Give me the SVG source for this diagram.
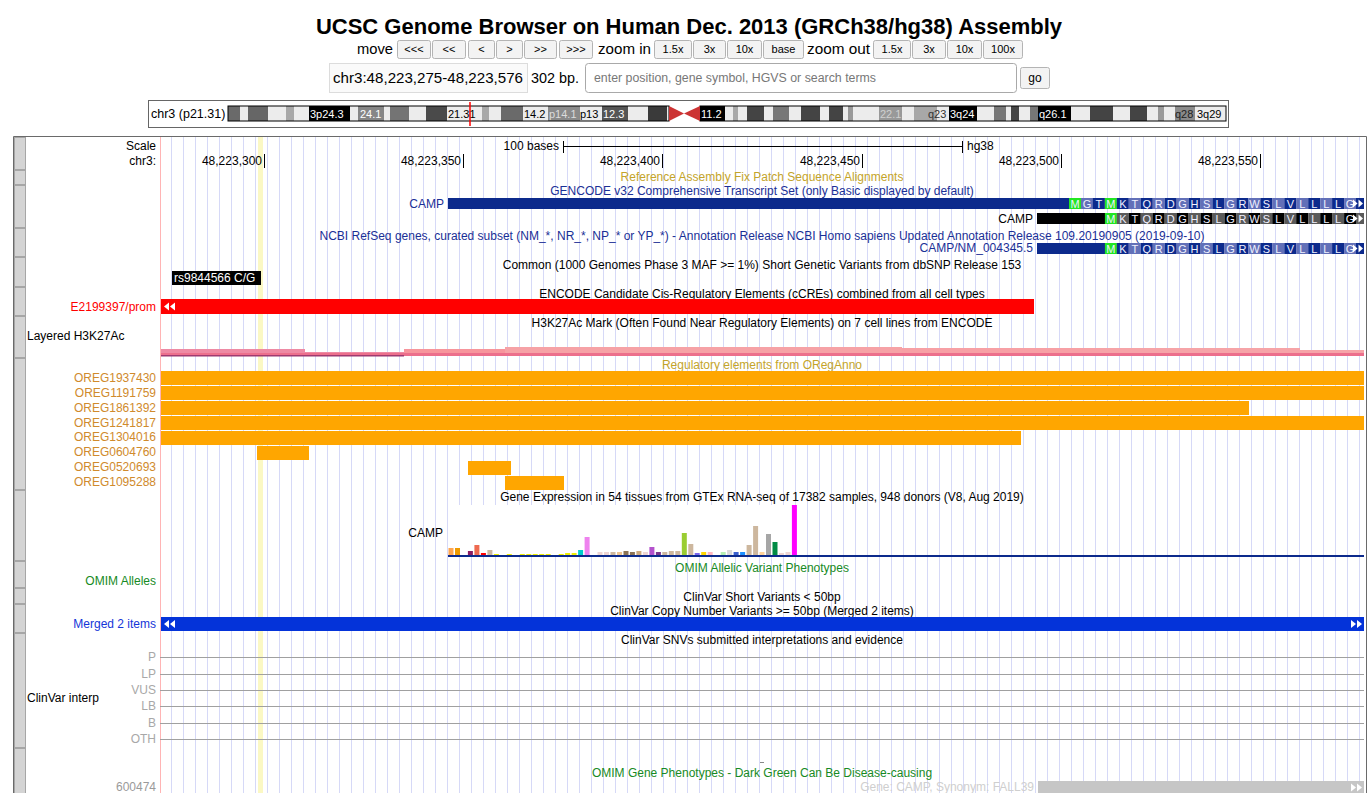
<svg xmlns="http://www.w3.org/2000/svg" width="1372" height="793" viewBox="0 0 1372 793">
<style>
  text { font-family: "Liberation Sans", Arial, sans-serif; font-size: 12px; fill: #000; }
  .hdr { font-size: 15px; }
  .btn-t { font-size: 11px; text-anchor: middle; }
  .btn { fill: #f3f3f3; stroke: #b4b4b4; }
  .side { fill: #d4d4d4; stroke: #a6a6a6; }
  .lbl { text-anchor: end; }
  .mid { text-anchor: middle; }
  .band { font-size: 11px; }
  .gold { fill: #c4a42a; }
  .navy { fill: #1a2f96; }
  .oreg { fill: #d08a2c; text-anchor: end; }
  .obar { fill: #ffa600; }
  .green { fill: #178a24; }
  .gray { fill: #a8a8a8; }
  .aa { font-size: 11px; fill: #f0f0ff; text-anchor: middle; }
  .cd { fill: #0c2a8c; }
  .cl { fill: #6270b8; }
  .ck { fill: #000; }
  .cg { fill: #5a5a5a; }
  .met { fill: #22e622; }
  .arw { fill: #fff; }
  .tick { stroke: #000; stroke-width: 1; }
  .cvline { stroke: #a0a0a0; stroke-width: 1.2; }
</style>
<defs>
  <pattern id="guides" x="161" y="0" width="12" height="8" patternUnits="userSpaceOnUse">
    <rect x="10" y="0" width="1" height="8" fill="#d6d9f7"/>
  </pattern>
</defs>

<rect width="1372" height="793" fill="#fff"/>

<!-- page header -->
<g id="header">
  <text x="689" y="34" class="mid" style="font-size:22px;font-weight:bold">UCSC Genome Browser on Human Dec. 2013 (GRCh38/hg38) Assembly</text>
  <text x="357" y="54" class="hdr" textLength="36" lengthAdjust="spacingAndGlyphs">move</text>
  <rect class="btn" x="397.5" y="40.5" width="33" height="18" rx="2"/><text class="btn-t" x="414" y="53">&lt;&lt;&lt;</text>
  <rect class="btn" x="432.5" y="40.5" width="33" height="18" rx="2"/><text class="btn-t" x="449" y="53">&lt;&lt;</text>
  <rect class="btn" x="468.5" y="40.5" width="26" height="18" rx="2"/><text class="btn-t" x="481.5" y="53">&lt;</text>
  <rect class="btn" x="496.5" y="40.5" width="26" height="18" rx="2"/><text class="btn-t" x="509.5" y="53">&gt;</text>
  <rect class="btn" x="524.5" y="40.5" width="32" height="18" rx="2"/><text class="btn-t" x="540.5" y="53">&gt;&gt;</text>
  <rect class="btn" x="559.5" y="40.5" width="33" height="18" rx="2"/><text class="btn-t" x="576" y="53">&gt;&gt;&gt;</text>
  <text x="598" y="54" class="hdr" textLength="53" lengthAdjust="spacingAndGlyphs">zoom in</text>
  <rect class="btn" x="654.5" y="40.5" width="37" height="18" rx="2"/><text class="btn-t" x="673" y="53">1.5x</text>
  <rect class="btn" x="693.5" y="40.5" width="32" height="18" rx="2"/><text class="btn-t" x="709.5" y="53">3x</text>
  <rect class="btn" x="727.5" y="40.5" width="34" height="18" rx="2"/><text class="btn-t" x="744.5" y="53">10x</text>
  <rect class="btn" x="763.5" y="40.5" width="40" height="18" rx="2"/><text class="btn-t" x="783.5" y="53">base</text>
  <text x="807" y="54" class="hdr" textLength="63" lengthAdjust="spacingAndGlyphs">zoom out</text>
  <rect class="btn" x="873.5" y="40.5" width="37" height="18" rx="2"/><text class="btn-t" x="892" y="53">1.5x</text>
  <rect class="btn" x="912.5" y="40.5" width="33" height="18" rx="2"/><text class="btn-t" x="929" y="53">3x</text>
  <rect class="btn" x="947.5" y="40.5" width="34" height="18" rx="2"/><text class="btn-t" x="964.5" y="53">10x</text>
  <rect class="btn" x="983.5" y="40.5" width="39" height="18" rx="2"/><text class="btn-t" x="1003" y="53">100x</text>

  <rect x="329.5" y="63.5" width="198" height="29" fill="#fafafa" stroke="#dcdcdc"/>
  <text x="333" y="83" class="hdr" textLength="190" lengthAdjust="spacingAndGlyphs">chr3:48,223,275-48,223,576</text>
  <text x="531" y="83" class="hdr" textLength="48" lengthAdjust="spacingAndGlyphs">302 bp.</text>
  <rect x="585.5" y="63.5" width="431" height="29" rx="3" fill="#fff" stroke="#a9a9a9"/>
  <text x="594" y="82" style="fill:#777" textLength="282" lengthAdjust="spacingAndGlyphs">enter position, gene symbol, HGVS or search terms</text>
  <rect class="btn" x="1020.5" y="67.5" width="29" height="21" rx="2"/>
  <text x="1035" y="82" class="btn-t" style="font-size:12px">go</text>
</g>

<!-- chromosome ideogram -->
<g id="ideogram">
  <rect x="148.5" y="100.5" width="1080" height="27" fill="#fff" stroke="#666"/>
  <text x="151" y="118" style="font-size:12.5px">chr3 (p21.31)</text>
  <g stroke="none">
    <rect x="228" y="106" width="12" height="15" fill="#6a6a6a"/>
    <rect x="240" y="106" width="8" height="15" fill="#ececec"/>
    <rect x="248" y="106" width="20" height="15" fill="#666"/>
    <rect x="268" y="106" width="18" height="15" fill="#ececec"/>
    <rect x="286" y="106" width="8" height="15" fill="#a8a8a8"/>
    <rect x="294" y="106" width="15" height="15" fill="#ececec"/>
    <rect x="309" y="106" width="41" height="15" fill="#000"/>
    <rect x="350" y="106" width="8" height="15" fill="#ececec"/>
    <rect x="358" y="106" width="26" height="15" fill="#868686"/>
    <rect x="384" y="106" width="6" height="15" fill="#ececec"/>
    <rect x="390" y="106" width="19" height="15" fill="#747474"/>
    <rect x="409" y="106" width="17" height="15" fill="#ececec"/>
    <rect x="426" y="106" width="21" height="15" fill="#4a4a4a"/>
    <rect x="447" y="106" width="35" height="15" fill="#ececec"/>
    <rect x="482" y="106" width="7" height="15" fill="#a8a8a8"/>
    <rect x="489" y="106" width="12" height="15" fill="#ececec"/>
    <rect x="501" y="106" width="22" height="15" fill="#6a6a6a"/>
    <rect x="523" y="106" width="25" height="15" fill="#ececec"/>
    <rect x="548" y="106" width="32" height="15" fill="#8a8a8a"/>
    <rect x="580" y="106" width="22" height="15" fill="#ececec"/>
    <rect x="602" y="106" width="26" height="15" fill="#555"/>
    <rect x="628" y="106" width="20" height="15" fill="#ececec"/>
    <rect x="648" y="106" width="19" height="15" fill="#3a3a3a"/>
    <rect x="667" y="106" width="2" height="15" fill="#ececec"/>
    <rect x="700" y="106" width="25" height="15" fill="#000"/>
    <rect x="725" y="106" width="8" height="15" fill="#ececec"/>
    <rect x="733" y="106" width="5" height="15" fill="#a8a8a8"/>
    <rect x="738" y="106" width="9" height="15" fill="#ececec"/>
    <rect x="747" y="106" width="17" height="15" fill="#444"/>
    <rect x="764" y="106" width="9" height="15" fill="#ececec"/>
    <rect x="773" y="106" width="16" height="15" fill="#777"/>
    <rect x="789" y="106" width="12" height="15" fill="#ececec"/>
    <rect x="801" y="106" width="19" height="15" fill="#444"/>
    <rect x="820" y="106" width="9" height="15" fill="#ececec"/>
    <rect x="829" y="106" width="14" height="15" fill="#444"/>
    <rect x="843" y="106" width="5" height="15" fill="#ececec"/>
    <rect x="848" y="106" width="5" height="15" fill="#999"/>
    <rect x="853" y="106" width="26" height="15" fill="#ececec"/>
    <rect x="879" y="106" width="23" height="15" fill="#999"/>
    <rect x="902" y="106" width="12" height="15" fill="#ececec"/>
    <rect x="914" y="106" width="23" height="15" fill="#a8a8a8"/>
    <rect x="937" y="106" width="12" height="15" fill="#ececec"/>
    <rect x="949" y="106" width="28" height="15" fill="#000"/>
    <rect x="977" y="106" width="17" height="15" fill="#ececec"/>
    <rect x="994" y="106" width="12" height="15" fill="#777"/>
    <rect x="1006" y="106" width="5" height="15" fill="#ececec"/>
    <rect x="1011" y="106" width="8" height="15" fill="#444"/>
    <rect x="1019" y="106" width="11" height="15" fill="#ececec"/>
    <rect x="1030" y="106" width="8" height="15" fill="#777"/>
    <rect x="1038" y="106" width="33" height="15" fill="#000"/>
    <rect x="1071" y="106" width="19" height="15" fill="#ececec"/>
    <rect x="1090" y="106" width="23" height="15" fill="#444"/>
    <rect x="1113" y="106" width="17" height="15" fill="#ececec"/>
    <rect x="1130" y="106" width="17" height="15" fill="#444"/>
    <rect x="1147" y="106" width="11" height="15" fill="#ececec"/>
    <rect x="1158" y="106" width="6" height="15" fill="#999"/>
    <rect x="1164" y="106" width="11" height="15" fill="#ececec"/>
    <rect x="1175" y="106" width="20" height="15" fill="#8a8a8a"/>
    <rect x="1195" y="106" width="31" height="15" fill="#ececec"/>
  </g>
  <rect x="228" y="106" width="441" height="15" fill="none" stroke="#000" stroke-width="1"/>
  <rect x="700" y="106" width="526" height="15" fill="none" stroke="#000" stroke-width="1"/>
  <polygon points="669,106 684,113.5 669,121" fill="#cc3333"/>
  <polygon points="700,106 684,113.5 700,121" fill="#cc3333"/>
  <line x1="470" y1="102" x2="470" y2="126" stroke="#ff0000" stroke-width="1.5"/>
  <text class="band" x="310" y="118" style="fill:#fff">3p24.3</text>
  <text class="band" x="360" y="118" style="fill:#fff">24.1</text>
  <text class="band" x="448" y="118">21.31</text>
  <text class="band" x="524" y="118">14.2</text>
  <text class="band" x="549" y="118" style="fill:#dcdcdc">p14.1</text>
  <text class="band" x="580" y="118">p13</text>
  <text class="band" x="603" y="118" style="fill:#fff">12.3</text>
  <text class="band" x="701" y="118" style="fill:#fff">11.2</text>
  <text class="band" x="880" y="118" style="fill:#d0d0d0">22.1</text>
  <text class="band" x="928" y="118" style="fill:#333">q23</text>
  <text class="band" x="950" y="118" style="fill:#fff">3q24</text>
  <text class="band" x="1039" y="118" style="fill:#fff">q26.1</text>
  <text class="band" x="1175" y="118" style="fill:#222">q28</text>
  <text class="band" x="1197" y="118">3q29</text>
</g>

<!-- track panel frame, guidelines, highlight -->
<g id="panel">
  <rect x="161" y="137" width="1204" height="656" fill="url(#guides)"/>
  <rect x="258" y="137" width="5" height="656" fill="#fbf8c4"/>
  <line x1="160.5" y1="137" x2="160.5" y2="793" stroke="#ffb4b4"/>
  <path d="M13.5,800 V136.5 H1366.5 V800" fill="none" stroke="#6a6a6a"/>
  <g id="side-buttons">
    <rect class="side" x="14.5" y="137.5" width="11" height="32"/>
    <rect class="side" x="14.5" y="170.5" width="11" height="14"/>
    <rect class="side" x="14.5" y="185.5" width="11" height="42"/>
    <rect class="side" x="14.5" y="228.5" width="11" height="28"/>
    <rect class="side" x="14.5" y="257.5" width="11" height="29"/>
    <rect class="side" x="14.5" y="287.5" width="11" height="28"/>
    <rect class="side" x="14.5" y="316.5" width="11" height="41"/>
    <rect class="side" x="14.5" y="358.5" width="11" height="131"/>
    <rect class="side" x="14.5" y="490.5" width="11" height="70"/>
    <rect class="side" x="14.5" y="561.5" width="11" height="26"/>
    <rect class="side" x="14.5" y="588.5" width="11" height="15"/>
    <rect class="side" x="14.5" y="604.5" width="11" height="28"/>
    <rect class="side" x="14.5" y="633.5" width="11" height="114"/>
    <rect class="side" x="14.5" y="748.5" width="11" height="60"/>
  </g>
</g>

<!-- base position ruler -->
<g id="ruler">
  <text x="156" y="150" class="lbl">Scale</text>
  <text x="156" y="165" class="lbl">chr3:</text>
  <text x="559" y="150" class="lbl">100 bases</text>
  <line x1="563" y1="146.5" x2="962" y2="146.5" class="tick"/>
  <line x1="563.5" y1="141" x2="563.5" y2="153" class="tick"/>
  <line x1="962.5" y1="141" x2="962.5" y2="153" class="tick"/>
  <text x="967" y="150">hg38</text>
  <text x="262" y="165" class="lbl">48,223,300</text><line x1="264.5" y1="154" x2="264.5" y2="168" class="tick"/>
  <text x="461" y="165" class="lbl">48,223,350</text><line x1="463.5" y1="154" x2="463.5" y2="168" class="tick"/>
  <text x="660" y="165" class="lbl">48,223,400</text><line x1="662.5" y1="154" x2="662.5" y2="168" class="tick"/>
  <text x="860" y="165" class="lbl">48,223,450</text><line x1="862.5" y1="154" x2="862.5" y2="168" class="tick"/>
  <text x="1059" y="165" class="lbl">48,223,500</text><line x1="1061.5" y1="154" x2="1061.5" y2="168" class="tick"/>
  <text x="1258" y="165" class="lbl">48,223,550</text><line x1="1260.5" y1="154" x2="1260.5" y2="168" class="tick"/>
</g>

<g id="fix-patches">
  <text x="762" y="181" class="mid gold">Reference Assembly Fix Patch Sequence Alignments</text>
</g>

<!-- GENCODE transcripts -->
<g id="gencode">
  <text x="762" y="195" class="mid navy">GENCODE v32 Comprehensive Transcript Set (only Basic displayed by default)</text>
  <text x="444" y="208" class="lbl navy">CAMP</text>
  <rect x="448" y="198" width="621" height="11" class="cd"/>
  <g id="gencode-codons">
    <rect x="1069.0" y="198" width="12" height="11" class="met"/><text class="aa" x="1075.0" y="207.5">M</text>
    <rect x="1081.0" y="198" width="12" height="11" class="cl"/><text class="aa" x="1087.0" y="207.5">G</text>
    <rect x="1092.9" y="198" width="12" height="11" class="cd"/><text class="aa" x="1098.9" y="207.5">T</text>
    <rect x="1104.9" y="198" width="12" height="11" class="met"/><text class="aa" x="1110.9" y="207.5">M</text>
    <rect x="1116.8" y="198" width="12" height="11" class="cd"/><text class="aa" x="1122.8" y="207.5">K</text>
    <rect x="1128.8" y="198" width="12" height="11" class="cl"/><text class="aa" x="1134.8" y="207.5">T</text>
    <rect x="1140.8" y="198" width="12" height="11" class="cd"/><text class="aa" x="1146.8" y="207.5">Q</text>
    <rect x="1152.7" y="198" width="12" height="11" class="cl"/><text class="aa" x="1158.7" y="207.5">R</text>
    <rect x="1164.7" y="198" width="12" height="11" class="cd"/><text class="aa" x="1170.7" y="207.5">D</text>
    <rect x="1176.6" y="198" width="12" height="11" class="cl"/><text class="aa" x="1182.6" y="207.5">G</text>
    <rect x="1188.6" y="198" width="12" height="11" class="cd"/><text class="aa" x="1194.6" y="207.5">H</text>
    <rect x="1200.6" y="198" width="12" height="11" class="cl"/><text class="aa" x="1206.6" y="207.5">S</text>
    <rect x="1212.5" y="198" width="12" height="11" class="cd"/><text class="aa" x="1218.5" y="207.5">L</text>
    <rect x="1224.5" y="198" width="12" height="11" class="cl"/><text class="aa" x="1230.5" y="207.5">G</text>
    <rect x="1236.4" y="198" width="12" height="11" class="cd"/><text class="aa" x="1242.4" y="207.5">R</text>
    <rect x="1248.4" y="198" width="12" height="11" class="cl"/><text class="aa" x="1254.4" y="207.5">W</text>
    <rect x="1260.4" y="198" width="12" height="11" class="cd"/><text class="aa" x="1266.4" y="207.5">S</text>
    <rect x="1272.3" y="198" width="12" height="11" class="cl"/><text class="aa" x="1278.3" y="207.5">L</text>
    <rect x="1284.3" y="198" width="12" height="11" class="cd"/><text class="aa" x="1290.3" y="207.5">V</text>
    <rect x="1296.2" y="198" width="12" height="11" class="cl"/><text class="aa" x="1302.2" y="207.5">L</text>
    <rect x="1308.2" y="198" width="12" height="11" class="cd"/><text class="aa" x="1314.2" y="207.5">L</text>
    <rect x="1320.2" y="198" width="12" height="11" class="cl"/><text class="aa" x="1326.2" y="207.5">L</text>
    <rect x="1332.1" y="198" width="12" height="11" class="cd"/><text class="aa" x="1338.1" y="207.5">L</text>
    <rect x="1344.1" y="198" width="12" height="11" class="cl"/><text class="aa" x="1350.1" y="207.5">G</text>
    <rect x="1356.0" y="198" width="8" height="11" class="cd"/>
    <polygon class="arw" points="1353,199.5 1357.5,203.5 1353,207.5"/>
    <polygon class="arw" points="1358.5,199.5 1363,203.5 1358.5,207.5"/>
  </g>
  <text x="1033" y="223" class="lbl">CAMP</text>
  <rect x="1037" y="213" width="68" height="11" class="ck"/>
  <g id="gencode-nc-codons">
    <rect x="1104.9" y="213" width="12" height="11" class="met"/><text class="aa" x="1110.9" y="222.5">M</text>
    <rect x="1116.8" y="213" width="12" height="11" class="cg"/><text class="aa" x="1122.8" y="222.5">K</text>
    <rect x="1128.8" y="213" width="12" height="11" class="ck"/><text class="aa" x="1134.8" y="222.5">T</text>
    <rect x="1140.8" y="213" width="12" height="11" class="cg"/><text class="aa" x="1146.8" y="222.5">Q</text>
    <rect x="1152.7" y="213" width="12" height="11" class="ck"/><text class="aa" x="1158.7" y="222.5">R</text>
    <rect x="1164.7" y="213" width="12" height="11" class="cg"/><text class="aa" x="1170.7" y="222.5">D</text>
    <rect x="1176.6" y="213" width="12" height="11" class="ck"/><text class="aa" x="1182.6" y="222.5">G</text>
    <rect x="1188.6" y="213" width="12" height="11" class="cg"/><text class="aa" x="1194.6" y="222.5">H</text>
    <rect x="1200.6" y="213" width="12" height="11" class="ck"/><text class="aa" x="1206.6" y="222.5">S</text>
    <rect x="1212.5" y="213" width="12" height="11" class="cg"/><text class="aa" x="1218.5" y="222.5">L</text>
    <rect x="1224.5" y="213" width="12" height="11" class="ck"/><text class="aa" x="1230.5" y="222.5">G</text>
    <rect x="1236.4" y="213" width="12" height="11" class="cg"/><text class="aa" x="1242.4" y="222.5">R</text>
    <rect x="1248.4" y="213" width="12" height="11" class="ck"/><text class="aa" x="1254.4" y="222.5">W</text>
    <rect x="1260.4" y="213" width="12" height="11" class="cg"/><text class="aa" x="1266.4" y="222.5">S</text>
    <rect x="1272.3" y="213" width="12" height="11" class="ck"/><text class="aa" x="1278.3" y="222.5">L</text>
    <rect x="1284.3" y="213" width="12" height="11" class="cg"/><text class="aa" x="1290.3" y="222.5">V</text>
    <rect x="1296.2" y="213" width="12" height="11" class="ck"/><text class="aa" x="1302.2" y="222.5">L</text>
    <rect x="1308.2" y="213" width="12" height="11" class="cg"/><text class="aa" x="1314.2" y="222.5">L</text>
    <rect x="1320.2" y="213" width="12" height="11" class="ck"/><text class="aa" x="1326.2" y="222.5">L</text>
    <rect x="1332.1" y="213" width="12" height="11" class="cg"/><text class="aa" x="1338.1" y="222.5">L</text>
    <rect x="1344.1" y="213" width="12" height="11" class="ck"/><text class="aa" x="1350.1" y="222.5">G</text>
    <rect x="1356.0" y="213" width="8" height="11" class="cg"/>
    <polygon class="arw" points="1353,214.5 1357.5,218.5 1353,222.5"/>
    <polygon class="arw" points="1358.5,214.5 1363,218.5 1358.5,222.5"/>
  </g>
</g>

<!-- NCBI RefSeq curated -->
<g id="refseq">
  <text x="762" y="240" class="mid navy">NCBI RefSeq genes, curated subset (NM_*, NR_*, NP_* or YP_*) - Annotation Release NCBI Homo sapiens Updated Annotation Release 109.20190905 (2019-09-10)</text>
  <text x="1033" y="252" class="lbl navy">CAMP/NM_004345.5</text>
  <rect x="1037" y="243" width="68" height="11" class="cd"/>
  <g id="refseq-codons">
    <rect x="1104.9" y="243" width="12" height="11" class="met"/><text class="aa" x="1110.9" y="252.5">M</text>
    <rect x="1116.8" y="243" width="12" height="11" class="cd"/><text class="aa" x="1122.8" y="252.5">K</text>
    <rect x="1128.8" y="243" width="12" height="11" class="cl"/><text class="aa" x="1134.8" y="252.5">T</text>
    <rect x="1140.8" y="243" width="12" height="11" class="cd"/><text class="aa" x="1146.8" y="252.5">Q</text>
    <rect x="1152.7" y="243" width="12" height="11" class="cl"/><text class="aa" x="1158.7" y="252.5">R</text>
    <rect x="1164.7" y="243" width="12" height="11" class="cd"/><text class="aa" x="1170.7" y="252.5">D</text>
    <rect x="1176.6" y="243" width="12" height="11" class="cl"/><text class="aa" x="1182.6" y="252.5">G</text>
    <rect x="1188.6" y="243" width="12" height="11" class="cd"/><text class="aa" x="1194.6" y="252.5">H</text>
    <rect x="1200.6" y="243" width="12" height="11" class="cl"/><text class="aa" x="1206.6" y="252.5">S</text>
    <rect x="1212.5" y="243" width="12" height="11" class="cd"/><text class="aa" x="1218.5" y="252.5">L</text>
    <rect x="1224.5" y="243" width="12" height="11" class="cl"/><text class="aa" x="1230.5" y="252.5">G</text>
    <rect x="1236.4" y="243" width="12" height="11" class="cd"/><text class="aa" x="1242.4" y="252.5">R</text>
    <rect x="1248.4" y="243" width="12" height="11" class="cl"/><text class="aa" x="1254.4" y="252.5">W</text>
    <rect x="1260.4" y="243" width="12" height="11" class="cd"/><text class="aa" x="1266.4" y="252.5">S</text>
    <rect x="1272.3" y="243" width="12" height="11" class="cl"/><text class="aa" x="1278.3" y="252.5">L</text>
    <rect x="1284.3" y="243" width="12" height="11" class="cd"/><text class="aa" x="1290.3" y="252.5">V</text>
    <rect x="1296.2" y="243" width="12" height="11" class="cl"/><text class="aa" x="1302.2" y="252.5">L</text>
    <rect x="1308.2" y="243" width="12" height="11" class="cd"/><text class="aa" x="1314.2" y="252.5">L</text>
    <rect x="1320.2" y="243" width="12" height="11" class="cl"/><text class="aa" x="1326.2" y="252.5">L</text>
    <rect x="1332.1" y="243" width="12" height="11" class="cd"/><text class="aa" x="1338.1" y="252.5">L</text>
    <rect x="1344.1" y="243" width="12" height="11" class="cl"/><text class="aa" x="1350.1" y="252.5">G</text>
    <rect x="1356.0" y="243" width="8" height="11" class="cd"/>
    <polygon class="arw" points="1353,244.5 1357.5,248.5 1353,252.5"/>
    <polygon class="arw" points="1358.5,244.5 1363,248.5 1358.5,252.5"/>
  </g>
</g>

<!-- dbSNP common variants -->
<g id="dbsnp">
  <text x="762" y="269" class="mid">Common (1000 Genomes Phase 3 MAF &gt;= 1%) Short Genetic Variants from dbSNP Release 153</text>
  <rect x="172" y="271" width="89" height="14" fill="#000"/>
  <text x="174" y="282" style="fill:#fff">rs9844566 C/G</text>
</g>

<!-- ENCODE cCREs -->
<g id="encode-ccre">
  <text x="762" y="298" class="mid">ENCODE Candidate Cis-Regulatory Elements (cCREs) combined from all cell types</text>
  <text x="156" y="311" class="lbl" style="fill:#ff0000">E2199397/prom</text>
  <rect x="161" y="299" width="873" height="15" fill="#ff0000"/>
  <polygon class="arw" points="169,302.5 164,306.5 169,310.5"/>
  <polygon class="arw" points="175,302.5 170,306.5 175,310.5"/>
</g>

<!-- H3K27Ac layered signal -->
<g id="h3k27ac">
  <text x="762" y="327" class="mid">H3K27Ac Mark (Often Found Near Regulatory Elements) on 7 cell lines from ENCODE</text>
  <text x="27" y="340">Layered H3K27Ac</text>
  <rect x="161" y="349" width="144" height="7" fill="#ee8aa4"/>
  <rect x="305" y="352" width="99" height="4" fill="#ee8aa4"/>
  <rect x="404" y="349" width="101" height="7" fill="#f7959c"/>
  <rect x="505" y="347" width="397" height="9" fill="#f6a2a6"/>
  <rect x="902" y="348" width="198" height="8" fill="#f7a0a5"/>
  <rect x="1100" y="348" width="200" height="8" fill="#f6a4a8"/>
  <rect x="1300" y="350" width="64" height="6" fill="#f6a4a8"/>
  <rect x="161" y="353" width="1203" height="3" fill="#ec6f8c"/>
  <rect x="161" y="355" width="243" height="1.5" fill="#9e3a70"/>
</g>

<!-- ORegAnno regulatory elements -->
<g id="oreganno">
  <text x="762" y="369" class="mid gold">Regulatory elements from ORegAnno</text>
  <text x="156" y="382" class="oreg">OREG1937430</text><rect class="obar" x="161" y="371" width="1203" height="14"/>
  <text x="156" y="397" class="oreg">OREG1191759</text><rect class="obar" x="161" y="386" width="1203" height="14"/>
  <text x="156" y="412" class="oreg">OREG1861392</text><rect class="obar" x="161" y="401" width="1088" height="14"/>
  <text x="156" y="427" class="oreg">OREG1241817</text><rect class="obar" x="161" y="416" width="1203" height="14"/>
  <text x="156" y="441" class="oreg">OREG1304016</text><rect class="obar" x="161" y="431" width="860" height="14"/>
  <text x="156" y="456" class="oreg">OREG0604760</text><rect class="obar" x="257" y="446" width="52" height="14"/>
  <text x="156" y="471" class="oreg">OREG0520693</text><rect class="obar" x="468" y="461" width="43" height="14"/>
  <text x="156" y="486" class="oreg">OREG1095288</text><rect class="obar" x="505" y="476" width="59" height="14"/>
</g>

<!-- GTEx gene expression -->
<g id="gtex">
  <text x="762" y="501" class="mid">Gene Expression in 54 tissues from GTEx RNA-seq of 17382 samples, 948 donors (V8, Aug 2019)</text>
  <text x="443" y="537" class="lbl">CAMP</text>
  <rect x="448" y="505" width="351" height="50" fill="#fff"/>
  <g id="gtex-bars">
    <rect x="448.5" y="548" width="5" height="7" fill="#FFA54F"/>
    <rect x="455.0" y="548" width="5" height="7" fill="#EE9A00"/>
    <rect x="467.9" y="551" width="5" height="4" fill="#8B1C62"/>
    <rect x="474.4" y="545" width="5" height="10" fill="#EE6A50"/>
    <rect x="480.9" y="553" width="5" height="2" fill="#FF0000"/>
    <rect x="487.4" y="550" width="5" height="5" fill="#CDB79E"/>
    <rect x="493.9" y="554" width="5" height="1" fill="#EEEE00"/>
    <rect x="506.8" y="554" width="5" height="1" fill="#EEEE00"/>
    <rect x="519.8" y="554" width="5" height="1" fill="#EEEE00"/>
    <rect x="526.3" y="554" width="5" height="1" fill="#EEEE00"/>
    <rect x="532.7" y="554" width="5" height="1" fill="#EEEE00"/>
    <rect x="539.2" y="554" width="5" height="1" fill="#EEEE00"/>
    <rect x="545.7" y="554" width="5" height="1" fill="#EEEE00"/>
    <rect x="558.7" y="554" width="5" height="1" fill="#EEEE00"/>
    <rect x="565.1" y="553" width="5" height="2" fill="#EEEE00"/>
    <rect x="571.6" y="553" width="5" height="2" fill="#EEEE00"/>
    <rect x="578.1" y="550" width="5" height="5" fill="#00CDCD"/>
    <rect x="584.6" y="537" width="5" height="18" fill="#EE82EE"/>
    <rect x="597.5" y="552" width="5" height="3" fill="#EED5D2"/>
    <rect x="604.0" y="552" width="5" height="3" fill="#EED5D2"/>
    <rect x="610.5" y="552" width="5" height="3" fill="#CDB79E"/>
    <rect x="617.0" y="552" width="5" height="3" fill="#EEC591"/>
    <rect x="623.5" y="551" width="5" height="4" fill="#8B7355"/>
    <rect x="629.9" y="552" width="5" height="3" fill="#8B7355"/>
    <rect x="636.4" y="551" width="5" height="4" fill="#CDAA7D"/>
    <rect x="642.9" y="552" width="5" height="3" fill="#EED5D2"/>
    <rect x="649.4" y="547" width="5" height="8" fill="#B452CD"/>
    <rect x="655.9" y="552" width="5" height="3" fill="#7A378B"/>
    <rect x="662.3" y="552" width="5" height="3" fill="#CDB79E"/>
    <rect x="668.8" y="551" width="5" height="4" fill="#CDB79E"/>
    <rect x="675.3" y="551" width="5" height="4" fill="#CDB79E"/>
    <rect x="681.8" y="533" width="5" height="22" fill="#9ACD32"/>
    <rect x="688.3" y="544" width="5" height="11" fill="#CDB79E"/>
    <rect x="694.7" y="553" width="5" height="2" fill="#7A67EE"/>
    <rect x="701.2" y="552" width="5" height="3" fill="#FFD700"/>
    <rect x="707.7" y="552" width="5" height="3" fill="#FFB6C1"/>
    <rect x="720.7" y="552" width="5" height="3" fill="#B4EEB4"/>
    <rect x="727.1" y="550" width="5" height="5" fill="#D9D9D9"/>
    <rect x="733.6" y="552" width="5" height="3" fill="#3A5FCD"/>
    <rect x="740.1" y="552" width="5" height="3" fill="#1E90FF"/>
    <rect x="746.6" y="545" width="5" height="10" fill="#CDB79E"/>
    <rect x="753.1" y="526" width="5" height="29" fill="#CDB79E"/>
    <rect x="759.5" y="552" width="5" height="3" fill="#FFD39B"/>
    <rect x="766.0" y="534" width="5" height="21" fill="#A6A6A6"/>
    <rect x="772.5" y="542" width="5" height="13" fill="#008B45"/>
    <rect x="779.0" y="553" width="5" height="2" fill="#EED5D2"/>
    <rect x="785.5" y="552" width="5" height="3" fill="#EED5D2"/>
    <rect x="791.9" y="505" width="5" height="50" fill="#FF00FF"/>
  </g>
  <rect x="448" y="555" width="916" height="2" fill="#0c2a8c"/>
</g>

<!-- OMIM alleles -->
<g id="omim-alleles">
  <text x="762" y="572" class="mid green">OMIM Allelic Variant Phenotypes</text>
  <text x="156" y="585" class="lbl green">OMIM Alleles</text>
</g>

<!-- ClinVar variants -->
<g id="clinvar-short">
  <text x="762" y="601" class="mid">ClinVar Short Variants &lt; 50bp</text>
</g>
<g id="clinvar-cnv">
  <text x="762" y="615" class="mid">ClinVar Copy Number Variants &gt;= 50bp (Merged 2 items)</text>
  <text x="156" y="628" class="lbl" style="fill:#1436d8">Merged 2 items</text>
  <rect x="161" y="617" width="1203" height="14" fill="#0433d9"/>
  <polygon class="arw" points="169,620 164,624 169,628"/>
  <polygon class="arw" points="175,620 170,624 175,628"/>
  <polygon class="arw" points="1351,620 1356,624 1351,628"/>
  <polygon class="arw" points="1357,620 1362,624 1357,628"/>
</g>

<!-- ClinVar interpretations -->
<g id="clinvar-interp">
  <text x="762" y="644" class="mid">ClinVar SNVs submitted interpretations and evidence</text>
  <text x="27" y="702">ClinVar interp</text>
  <text x="156" y="661" class="lbl gray">P</text><line class="cvline" x1="160" y1="657.5" x2="1364" y2="657.5"/>
  <text x="156" y="678" class="lbl gray">LP</text><line class="cvline" x1="160" y1="674.5" x2="1364" y2="674.5"/>
  <text x="156" y="694" class="lbl gray">VUS</text><line class="cvline" x1="160" y1="690.5" x2="1364" y2="690.5"/>
  <text x="156" y="710" class="lbl gray">LB</text><line class="cvline" x1="160" y1="706.5" x2="1364" y2="706.5"/>
  <text x="156" y="727" class="lbl gray">B</text><line class="cvline" x1="160" y1="723.5" x2="1364" y2="723.5"/>
  <text x="156" y="743" class="lbl gray">OTH</text><line class="cvline" x1="160" y1="739.5" x2="1364" y2="739.5"/>
</g>

<!-- OMIM genes -->
<g id="omim-genes">
  <rect x="760" y="762" width="4" height="1" fill="#888"/>
  <text x="762" y="777" class="mid green">OMIM Gene Phenotypes - Dark Green Can Be Disease-causing</text>
  <text x="156" y="791" class="lbl" style="fill:#9a9a9a">600474</text>
  <text x="1034" y="791" class="lbl" style="fill:#cfcfcf">Gene: CAMP, Synonym:  FALL39</text>
  <rect x="1038" y="781" width="326" height="13" fill="#c6c6c6"/>
  <polygon class="arw" points="1351,783.5 1356,787.5 1351,791.5"/>
  <polygon class="arw" points="1357,783.5 1362,787.5 1357,791.5"/>
</g>
</svg>
